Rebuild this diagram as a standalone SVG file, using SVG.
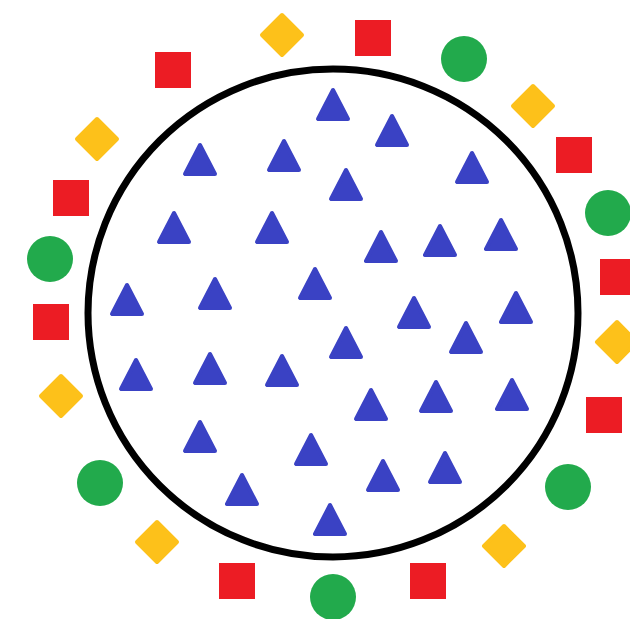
<svg xmlns="http://www.w3.org/2000/svg" xmlns:xlink="http://www.w3.org/1999/xlink" width="630" height="619" viewBox="0 0 630 619">
<defs>
<style>
.tri{fill:#3a42c4;stroke:#3a42c4;stroke-width:4;stroke-linejoin:round}
.sq{fill:#ec1c24}
.ci{fill:#22aa4c}
.di{fill:#fdc11a;stroke:#fdc11a;stroke-width:4;stroke-linejoin:round}
</style>
<polygon id="t" class="tri" points="0,-15 -15,14 15,14"/>
<rect id="s" class="sq" x="-18" y="-18" width="36" height="36"/>
<circle id="c" class="ci" r="23"/>
<polygon id="d" class="di" points="0,-20 20,0 0,20 -20,0"/>
</defs>
<rect width="630" height="619" fill="#ffffff"/>
<g id="ring">
<ellipse cx="333" cy="313" rx="245" ry="244" fill="none" stroke="#000" stroke-width="7"/>
</g>
<g id="outer">
<use href="#d" x="282" y="35"/>
<use href="#s" x="373" y="38"/>
<use href="#c" x="464" y="59"/>
<use href="#d" x="533" y="106"/>
<use href="#s" x="574" y="155"/>
<use href="#c" x="608" y="213"/>
<use href="#s" x="618" y="277"/>
<use href="#d" x="617" y="342"/>
<use href="#s" x="604" y="415"/>
<use href="#c" x="568" y="487"/>
<use href="#d" x="504" y="546"/>
<use href="#s" x="428" y="581"/>
<use href="#c" x="333" y="597"/>
<use href="#s" x="237" y="581"/>
<use href="#d" x="157" y="542"/>
<use href="#c" x="100" y="483"/>
<use href="#d" x="61" y="396"/>
<use href="#s" x="51" y="322"/>
<use href="#c" x="50" y="259"/>
<use href="#s" x="71" y="198"/>
<use href="#d" x="97" y="139"/>
<use href="#s" x="173" y="70"/>
</g>
<g id="inner">
<use href="#t" x="333" y="105"/>
<use href="#t" x="392" y="131"/>
<use href="#t" x="200" y="160"/>
<use href="#t" x="284" y="156"/>
<use href="#t" x="346" y="185"/>
<use href="#t" x="472" y="168"/>
<use href="#t" x="174" y="228"/>
<use href="#t" x="272" y="228"/>
<use href="#t" x="381" y="247"/>
<use href="#t" x="440" y="241"/>
<use href="#t" x="501" y="235"/>
<use href="#t" x="127" y="300"/>
<use href="#t" x="215" y="294"/>
<use href="#t" x="315" y="284"/>
<use href="#t" x="414" y="313"/>
<use href="#t" x="516" y="308"/>
<use href="#t" x="466" y="338"/>
<use href="#t" x="346" y="343"/>
<use href="#t" x="136" y="375"/>
<use href="#t" x="210" y="369"/>
<use href="#t" x="282" y="371"/>
<use href="#t" x="371" y="405"/>
<use href="#t" x="436" y="397"/>
<use href="#t" x="512" y="395"/>
<use href="#t" x="200" y="437"/>
<use href="#t" x="311" y="450"/>
<use href="#t" x="383" y="476"/>
<use href="#t" x="445" y="468"/>
<use href="#t" x="242" y="490"/>
<use href="#t" x="330" y="520"/>
</g>
</svg>
